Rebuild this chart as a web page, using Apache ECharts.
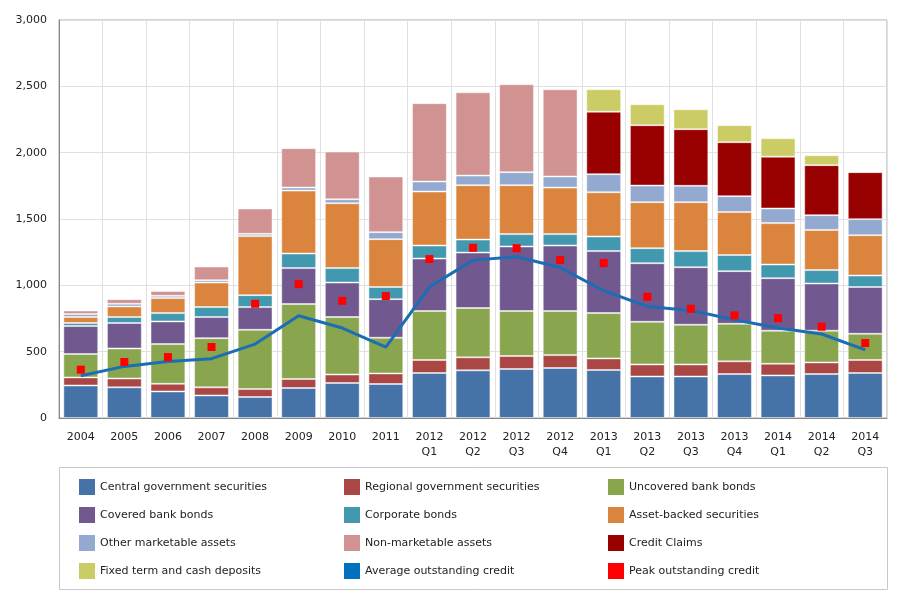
<!DOCTYPE html>
<html>
<head>
<meta charset="utf-8">
<script src="https://cdn.jsdelivr.net/npm/echarts@6/dist/echarts.min.js"></script>
<style>
html,body{margin:0;padding:0;background:#fff;}
#chart{width:908px;height:600px;}
</style>
</head>
<body>
<div id="chart"></div>
<script>
var categories = ['2004','2005','2006','2007','2008','2009','2010','2011','2012\nQ1','2012\nQ2','2012\nQ3','2012\nQ4','2013\nQ1','2013\nQ2','2013\nQ3','2013\nQ4','2014\nQ1','2014\nQ2','2014\nQ3'];
var yTicks = [0, 500, 1000, 1500, 2000, 2500, 3000];

var centralGov   = [245,231,200,170,158,226,264,256,339,359,369,377,362,313,313,331,321,331,339];
var regionalGov  = [61,67,58,61,60,68,64,80,98,98,98,97,87,91,91,96,88,88,98];
var uncoveredBank= [176,226,299,371,447,565,433,269,369,372,339,332,342,321,299,283,249,239,198];
var coveredBank  = [211,192,171,159,171,271,260,291,396,418,487,494,467,442,434,397,396,356,352];
var corporate    = [23,45,63,75,90,110,109,91,98,98,93,86,110,113,121,121,103,101,87];
var assetBacked  = [45,80,113,185,445,474,489,361,407,410,369,351,334,347,369,324,312,303,304];
var otherMkt     = [22,20,17,18,17,23,30,53,75,72,98,83,136,125,123,120,110,111,121];
var nonMkt       = [27,35,36,103,191,297,359,419,591,628,663,658,null,null,null,null,null,null,null];
var creditClaims = [null,null,null,null,null,null,null,null,null,null,null,null,471,455,427,407,391,377,354];
var fixedTerm    = [null,null,null,null,null,null,null,null,null,null,null,null,169,158,150,128,139,75,null];
var avgCredit    = [319,389,426,447,557,771,678,535,987,1190,1215,1134,959,841,811,740,678,633,514];
var peakCredit   = [364,422,459,535,861,1009,883,919,1198,1283,1280,1192,1168,914,823,773,753,688,565];

var barDefs = [
  ['Central government securities', centralGov, '#4572A7'],
  ['Regional government securities', regionalGov, '#AA4643'],
  ['Uncovered bank bonds', uncoveredBank, '#89A54E'],
  ['Covered bank bonds', coveredBank, '#71588F'],
  ['Corporate bonds', corporate, '#4198AF'],
  ['Asset-backed securities', assetBacked, '#DB843D'],
  ['Other marketable assets', otherMkt, '#93A9CF'],
  ['Non-marketable assets', nonMkt, '#D19392'],
  ['Credit Claims', creditClaims, '#990000'],
  ['Fixed term and cash deposits', fixedTerm, '#CCCC66']
];

var FONT = '"DejaVu Sans", Verdana, sans-serif';
var series = barDefs.map(function(d){
  return {
    name: d[0], type: 'bar', stack: 'total', data: d[1],
    barCategoryGap: '20%',
    itemStyle: {color: d[2], borderColor: 'rgba(255,255,255,0.45)', borderWidth: 1},
    emphasis: {disabled: true}
  };
});
series.push({
  name: 'Average outstanding credit', type: 'line', data: avgCredit,
  symbol: 'none', z: 5,
  lineStyle: {color: '#1C6EB4', width: 3},
  itemStyle: {color: '#0070C0'}
});
series.push({
  name: 'Peak outstanding credit', type: 'scatter', data: peakCredit,
  symbol: 'rect', symbolSize: 8, z: 6,
  itemStyle: {color: '#FF0000', opacity: 1}
});

// legend layout: 3 columns x 4 rows, row-major order of series names
var legendNames = series.map(function(s){ return s.name; });
var colLeft = [79, 344, 608];
var legends = legendNames.map(function(name, i){
  return {
    left: colLeft[i % 3], top: 479 + Math.floor(i / 3) * 28,
    icon: 'rect', padding: 0, itemWidth: 16, itemHeight: 16,
    selectedMode: false,
    itemStyle: {borderWidth: 0},
    lineStyle: {width: 0},
    textStyle: {fontFamily: FONT, fontSize: 11, color: '#222', lineHeight: 16},
    data: [name]
  };
});

var chart = echarts.init(document.getElementById('chart'), null, {renderer: 'canvas'});
chart.setOption({
  animation: false,
  textStyle: {fontFamily: FONT},
  grid: {left: 59, right: 21, top: 20, bottom: 182, show: true, borderColor: '#A8A8A8', borderWidth: 1},
  xAxis: {
    type: 'category', data: categories,
    axisLine: {lineStyle: {color: '#888'}},
    axisTick: {show: false},
    splitLine: {show: true, lineStyle: {color: '#E0E0E0'}},
    axisLabel: {fontFamily: FONT, fontSize: 11, color: '#222', margin: 12, lineHeight: 15, interval: 0}
  },
  yAxis: {
    type: 'value', min: yTicks[0], max: yTicks[yTicks.length-1], interval: 500,
    axisLine: {show: true, lineStyle: {color: '#888'}},
    axisTick: {show: false},
    splitLine: {lineStyle: {color: '#E0E0E0'}},
    axisLabel: {fontFamily: FONT, fontSize: 11, color: '#222', margin: 12,
      formatter: function(v){ return v.toLocaleString('en-US'); }}
  },
  legend: legends,
  graphic: [{
    type: 'rect', z: -1,
    shape: {x: 59.5, y: 467.5, width: 828, height: 122},
    style: {fill: 'none', stroke: '#C8C8C8', lineWidth: 1}
  }],
  series: series
});
</script>
</body>
</html>
